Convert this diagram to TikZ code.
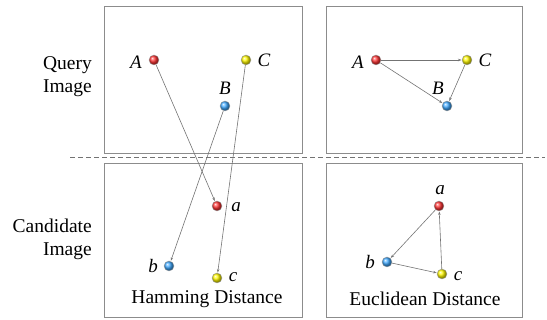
\documentclass[tikz,border=0pt]{standalone}
\usepackage{fontspec}
\newfontfamily\timesfont{Liberation Serif}
\usetikzlibrary{arrows.meta}

\begin{document}
\begin{tikzpicture}[x=1pt,y=-1pt]
    \tikzset{frame/.style = {draw=black!45,line width=0.8pt}}
    \tikzset{ball/.style = {shape=circle,draw=black!35,line width=0.4pt,inner sep=0pt,minimum size=10pt,shading=ball}}
    \tikzset{letter/.style = {font=\timesfont\fontsize{19}{22}\selectfont\itshape,inner sep=0pt}}
    \tikzset{caption/.style = {font=\timesfont\fontsize{19.5}{23}\selectfont,inner sep=0pt,align=right}}
    \tikzset{edge/.style = {draw=black!55,line width=0.6pt,-{Stealth[length=3.5pt,width=2.5pt]},shorten >=0.3pt}}
    \colorlet{redball}{red!80!white}
    \colorlet{blueball}{blue!45!cyan!75!white}
    \colorlet{yellowball}{yellow!95!orange}

    \useasboundingbox (0,0) rectangle (547,320);

    % frames
    \draw[frame] (104,6) rectangle (302,153);
    \draw[frame] (326,6) rectangle (522,153);
    \draw[frame] (104,163) rectangle (302,317);
    \draw[frame] (326,163) rectangle (522,317);
    \draw[black!55,line width=0.6pt,dash pattern=on 5pt off 3pt] (70,157) -- (545,157);

    % row captions
    \node[caption,anchor=east] (query) at (92,77) {Query\\Image};
    \node[caption,anchor=east] (cand) at (92,239) {Candidate\\Image};

    % hamming: query points
    \node[ball,ball color=redball] (hA) at (154,60) {};
    \node[ball,ball color=blueball] (hB) at (225,106) {};
    \node[ball,ball color=yellowball] (hC) at (246,60) {};
    \node[letter] (lhA) at (136,62) {A};
    \node[letter] (lhB) at (225,88) {B};
    \node[letter] (lhC) at (264,60) {C};

    % hamming: candidate points
    \node[ball,ball color=redball] (ha) at (217,206) {};
    \node[ball,ball color=blueball] (hb) at (169,266) {};
    \node[ball,ball color=yellowball] (hc) at (217,278) {};
    \node[letter] (lha) at (236,207) {a};
    \node[letter] (lhb) at (153,266) {b};
    \node[letter] (lhc) at (233,277) {c};
    \node[caption] (ham) at (207,299) {Hamming Distance};

    \draw[edge] (hA) to (ha);
    \draw[edge] (hB) to (hb);
    \draw[edge] (hC) to (hc);

    % euclidean: query points
    \node[ball,ball color=redball] (eA) at (376,60) {};
    \node[ball,ball color=blueball] (eB) at (447,106) {};
    \node[ball,ball color=yellowball] (eC) at (467,60) {};
    \node[letter] (leA) at (358,62) {A};
    \node[letter] (leB) at (438,88) {B};
    \node[letter] (leC) at (485,60) {C};

    \draw[edge] (eA) to (eC);
    \draw[edge] (eA) to (eB);
    \draw[edge] (eC) to (eB);

    % euclidean: candidate points
    \node[ball,ball color=redball] (ea) at (439,206) {};
    \node[ball,ball color=blueball] (eb) at (387,262) {};
    \node[ball,ball color=yellowball] (ec) at (442,274) {};
    \node[letter] (lea) at (440,190) {a};
    \node[letter] (leb) at (370,262) {b};
    \node[letter] (lec) at (458,276) {c};
    \node[caption] (euc) at (425,299) {Euclidean Distance};

    \draw[edge] (ea) to (eb);
    \draw[edge] (eb) to (ec);
    \draw[edge] (ec) to (ea);
\end{tikzpicture}
\end{document}
